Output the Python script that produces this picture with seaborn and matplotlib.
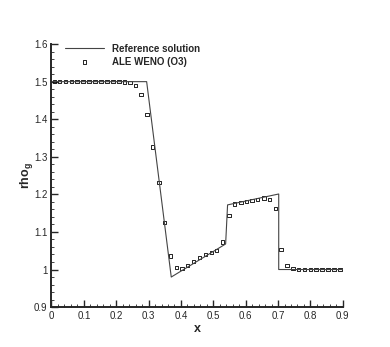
import matplotlib
matplotlib.use("Agg")
import matplotlib.pyplot as plt
import seaborn as sns
import pandas as pd
from matplotlib.ticker import MultipleLocator, FuncFormatter

# reference (exact) solution, piecewise
ref_x = [0.0, 0.294, 0.370, 0.538, 0.544, 0.702, 0.702, 0.9]
ref_rho = [1.5, 1.5, 0.980, 1.068, 1.172, 1.201, 1.0, 1.0]

# ALE WENO (O3) cell values
weno_x = [0.009, 0.025, 0.043, 0.061, 0.079, 0.097, 0.116, 0.134, 0.153, 0.172,
          0.190, 0.209, 0.226, 0.243, 0.260, 0.277, 0.295, 0.313, 0.332, 0.350,
          0.367, 0.386, 0.403, 0.421, 0.439, 0.457, 0.475, 0.494, 0.510, 0.529,
          0.548, 0.566, 0.585, 0.602, 0.620, 0.637, 0.656, 0.673, 0.692, 0.709,
          0.728, 0.746, 0.764, 0.782, 0.800, 0.817, 0.836, 0.854, 0.873, 0.891]
weno_rho = [1.5, 1.5, 1.5, 1.5, 1.5, 1.5, 1.5, 1.5, 1.5, 1.5,
            1.5, 1.5, 1.499, 1.497, 1.490, 1.466, 1.413, 1.326, 1.231, 1.125,
            1.036, 1.006, 1.003, 1.011, 1.021, 1.032, 1.040, 1.045, 1.051, 1.073,
            1.143, 1.174, 1.178, 1.181, 1.183, 1.187, 1.190, 1.187, 1.162, 1.054,
            1.010, 1.002, 1.0, 1.0, 1.0, 1.0, 1.0, 1.0, 1.0, 1.0]

sns.set_style("ticks")
plt.rcParams["font.family"] = ["Liberation Sans", "DejaVu Sans"]
plt.rcParams["mathtext.fontset"] = "custom"
plt.rcParams["mathtext.rm"] = "Liberation Sans"
plt.rcParams["mathtext.bf"] = "Liberation Sans:bold"

ref = pd.DataFrame({"x": ref_x, "rho": ref_rho})
num = pd.DataFrame({"x": weno_x, "rho": weno_rho})

fig = plt.figure(figsize=(3.9, 3.47), dpi=100)
ax = fig.add_axes([0.132, 0.115, 0.747, 0.758])

sns.lineplot(data=ref, x="x", y="rho", ax=ax, estimator=None, sort=False,
             color="#444444", linewidth=0.8, label="Reference solution")
sns.scatterplot(data=num, x="x", y="rho", ax=ax, marker="s", s=6,
                facecolor="none", edgecolor="black", linewidth=0.6,
                label="ALE WENO (O3)")

ax.set_xlim(0, 0.9)
ax.set_ylim(0.9, 1.6)
ax.xaxis.set_major_locator(MultipleLocator(0.1))
ax.xaxis.set_minor_locator(MultipleLocator(0.02))
ax.yaxis.set_major_locator(MultipleLocator(0.1))
ax.yaxis.set_minor_locator(MultipleLocator(0.02))


def fmt(v, pos):
    s = f"{v:.1f}"
    return s[:-2] if s.endswith(".0") else s


ax.xaxis.set_major_formatter(FuncFormatter(fmt))
ax.yaxis.set_major_formatter(FuncFormatter(fmt))

ax.tick_params(which="major", direction="in", length=5, width=1.0,
               labelsize=7, pad=3)
ax.tick_params(which="minor", direction="in", length=2.5, width=0.6)
sns.despine(ax=ax)
for side in ["left", "bottom"]:
    ax.spines[side].set_linewidth(1.4)

ax.set_xlabel("x", fontsize=9, fontweight="bold", labelpad=1)
ax.set_ylabel(r"rho$_\mathbf{g}$", fontsize=9, fontweight="bold", labelpad=-1)

ax.legend(loc="upper left", frameon=False, handlelength=4,
          prop={"weight": "bold", "size": 7}, borderaxespad=0.1,
          bbox_to_anchor=(0.03, 1.02), labelspacing=0.3)

fig.savefig("out.png", dpi=100)
